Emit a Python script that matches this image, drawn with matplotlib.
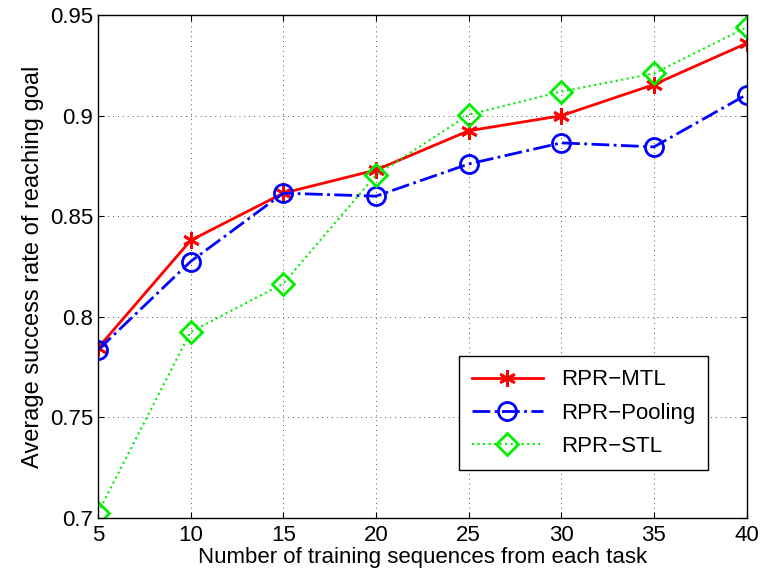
import matplotlib
matplotlib.use("Agg")
import matplotlib.pyplot as plt

plt.rcParams['font.family'] = ['Liberation Sans', 'DejaVu Sans']

x = [5, 10, 15, 20, 25, 30, 35, 40]
mtl = [0.7845, 0.838, 0.8615, 0.873, 0.8925, 0.900, 0.9155, 0.936]
pooling = [0.7835, 0.8275, 0.8615, 0.860, 0.876, 0.8865, 0.8845, 0.9105]
stl = [0.7025, 0.7925, 0.8165, 0.8705, 0.9005, 0.912, 0.921, 0.944]

xticks = [5, 10, 15, 20, 25, 30, 35, 40]
yticks = [0.7, 0.75, 0.8, 0.85, 0.9, 0.95]
yticklabels = ['0.7', '0.75', '0.8', '0.85', '0.9', '0.95']

fig = plt.figure(figsize=(7.65, 5.74), dpi=100)
ax = fig.add_axes([0.128, 0.0976, 0.848, 0.876])

ax.plot(x, mtl, color='red', linestyle='-', linewidth=2, marker=(6, 2, 0),
        markersize=12, markeredgewidth=2, label='RPR\u2212MTL')
ax.plot(x, pooling, color='blue', linestyle='-.', linewidth=2, marker='o',
        markersize=13, markerfacecolor='none', markeredgewidth=2,
        label='RPR\u2212Pooling')
ax.plot(x, stl, color='#00ee00', linestyle=':', linewidth=1.5, marker='D',
        markersize=11, markerfacecolor='none', markeredgewidth=2,
        label='RPR\u2212STL')

ax.set_xlim(5, 40)
ax.set_ylim(0.7, 0.95)
ax.set_xticks(xticks)
ax.set_yticks(yticks)
ax.set_yticklabels(yticklabels)
ax.tick_params(direction='in', top=True, right=True, labelsize=16, length=4)
ax.tick_params(axis='x', pad=5)
ax.grid(True, linestyle=(0, (1, 4)), color='#555555', linewidth=0.7)
for s in ax.spines.values():
    s.set_linewidth(1)

ax.set_xlabel('Number of training sequences from each task', fontsize=16, labelpad=1)
ax.set_ylabel('Average success rate of reaching goal', fontsize=17, labelpad=4)

leg = ax.legend(loc='upper left', bbox_to_anchor=(0.556, 0.322), borderaxespad=0,
                fontsize=16, fancybox=False, edgecolor='black', framealpha=1,
                handlelength=3.2, borderpad=0.6, labelspacing=0.55)
leg.get_frame().set_linewidth(1)

fig.savefig('out.png', dpi=100)
